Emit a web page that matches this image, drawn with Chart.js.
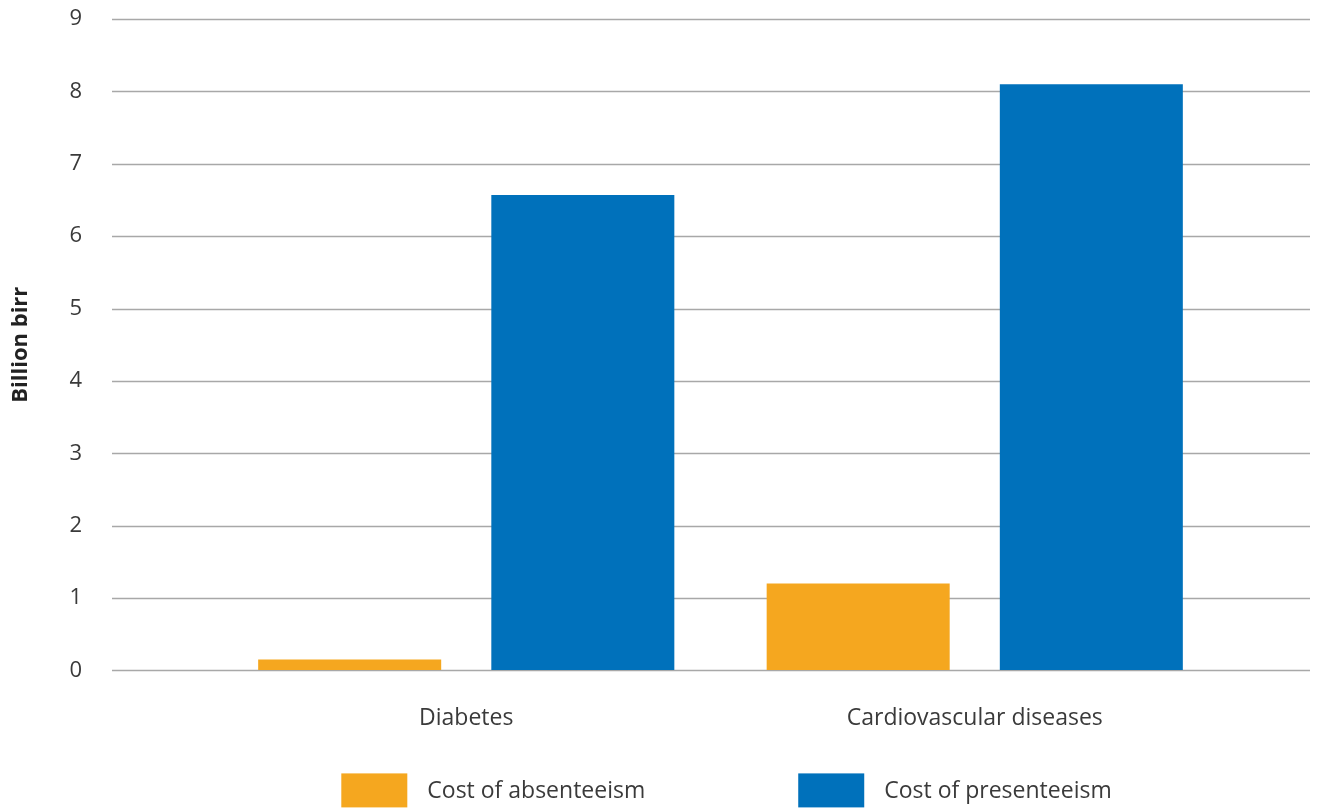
<!DOCTYPE html>
<html>
<head>
<meta charset="utf-8">
<script src="https://cdn.jsdelivr.net/npm/chart.js@4"></script>
<style>
  html, body { margin: 0; padding: 0; background: #fff; }
  #wrap { width: 1317px; height: 810px; }
</style>
</head>
<body>
<div id="wrap"><canvas id="chart"></canvas></div>
<script>
const categories = ['Diabetes', 'Cardiovascular diseases'];
const absenteeism = [0.15, 1.2];
const presenteeism = [6.57, 8.1];
const seriesNames = ['Cost of absenteeism', 'Cost of presenteeism'];
const seriesColors = ['#F5A71F', '#0071BB'];

const FONT = "'Open Sans', 'Liberation Sans', sans-serif";
const TEXT = '#3a3a3a';

// gridlines run wider than the category area, like the original
const wideGrid = {
  id: 'wideGrid',
  beforeDatasetsDraw(chart) {
    const ctx = chart.ctx;
    const y = chart.scales.y;
    ctx.save();
    ctx.strokeStyle = '#a8a8a8';
    ctx.lineWidth = 1.5;
    y.ticks.forEach(t => {
      const py = Math.round(y.getPixelForValue(t.value)) + 0.5;
      ctx.beginPath();
      ctx.moveTo(112, py);
      ctx.lineTo(1310, py);
      ctx.stroke();
    });
    ctx.restore();
  }
};

const bottomLegend = {
  id: 'bottomLegend',
  afterDraw(chart) {
    const ctx = chart.ctx;
    const boxW = 66, boxH = 34, textGap = 20, itemGap = 153;
    ctx.save();
    ctx.font = '23px ' + FONT;
    const widths = chart.data.datasets.map(d => ctx.measureText(d.label).width);
    let total = itemGap * (widths.length - 1);
    widths.forEach(w => total += boxW + textGap + w);
    const area = chart.chartArea;
    let x = (area.left + area.right) / 2 + 6 - total / 2;
    const cy = area.bottom + 120;
    chart.data.datasets.forEach((d, i) => {
      ctx.fillStyle = d.backgroundColor;
      ctx.fillRect(x, cy - boxH / 2, boxW, boxH);
      ctx.fillStyle = TEXT;
      ctx.textBaseline = 'middle';
      ctx.fillText(d.label, x + boxW + textGap, cy + 1);
      x += boxW + textGap + widths[i] + itemGap;
    });
    ctx.restore();
  }
};

new Chart(document.getElementById('chart'), {
  type: 'bar',
  data: {
    labels: categories,
    datasets: [
      { label: seriesNames[0], data: absenteeism, backgroundColor: seriesColors[0] },
      { label: seriesNames[1], data: presenteeism, backgroundColor: seriesColors[1] }
    ]
  },
  options: {
    responsive: true,
    maintainAspectRatio: false,
    animation: false,
    categoryPercentage: 0.917,
    barPercentage: 0.785,
    layout: { padding: { top: 19, right: 88, left: 0, bottom: 44 } },
    plugins: {
      legend: { display: false },
      tooltip: { enabled: false }
    },
    scales: {
      x: {
        grid: { display: false, drawTicks: false },
        border: { display: false },
        ticks: { color: TEXT, font: { family: FONT, size: 23 }, padding: 34 }
      },
      y: {
        min: 0,
        max: 9,
        ticks: { stepSize: 1, color: TEXT, font: { family: FONT, size: 22 }, padding: 4 },
        grid: { display: true, drawTicks: true, tickLength: 126, color: 'rgba(0,0,0,0)' },
        border: { display: false },
        title: {
          display: true,
          text: 'Billion birr',
          color: '#222',
          font: { family: FONT, size: 22, weight: 'bold' },
          padding: { top: 8, bottom: 0 }
        },
        afterFit: s => { s.width = 212; }
      }
    }
  },
  plugins: [wideGrid, bottomLegend]
});
</script>
</body>
</html>
